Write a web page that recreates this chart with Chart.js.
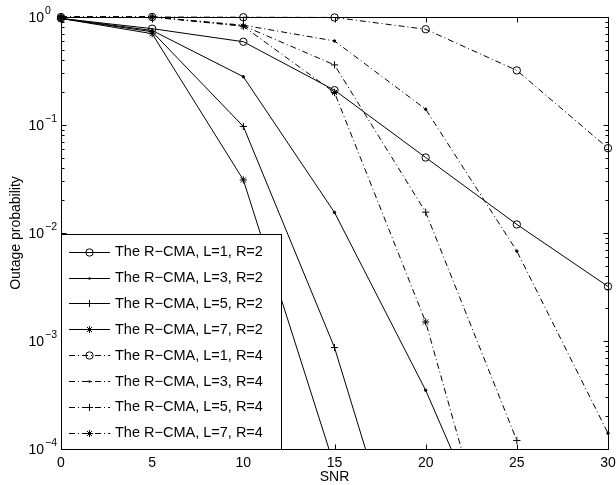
<!DOCTYPE html>
<html>
<head>
<meta charset="utf-8">
<script src="https://cdn.jsdelivr.net/npm/chart.js@4"></script>
<style>
  body { margin: 0; background: #fff; }
  #wrap { width: 616px; height: 485px; }
</style>
</head>
<body>
<div id="wrap"><canvas id="outage-chart"></canvas></div>
<script>
// SNR values on the x axis
var snr = [0, 5, 10, 15, 20, 25, 30];

// Outage probability, R = 2 (solid lines)
var l1r2 = [0.97, 0.78, 0.59, 0.21, 0.05, 0.012, 0.0032];
var l3r2 = [0.97, 0.75, 0.28, 0.0155, 0.00035, 0.000004];
var l5r2 = [0.97, 0.73, 0.097, 0.00087, 0.0000015];
var l7r2 = [0.97, 0.70, 0.031, 0.000069];

// Outage probability, R = 4 (dash-dot lines)
var l1r4 = [1, 1, 0.995, 0.99, 0.77, 0.32, 0.061];
var l3r4 = [1, 1, 0.84, 0.6, 0.14, 0.0068, 0.00014];
var l5r4 = [1, 1, 0.83, 0.36, 0.0156, 0.00012];
var l7r4 = [1, 1, 0.82, 0.2, 0.0015, 0.0000015];

var seriesLabels = [
  'The R\u2212CMA, L=1, R=2',
  'The R\u2212CMA, L=3, R=2',
  'The R\u2212CMA, L=5, R=2',
  'The R\u2212CMA, L=7, R=2',
  'The R\u2212CMA, L=1, R=4',
  'The R\u2212CMA, L=3, R=4',
  'The R\u2212CMA, L=5, R=4',
  'The R\u2212CMA, L=7, R=4'
];

// Tick labels
var xTicks = [0, 5, 10, 15, 20, 25, 30];
var yTickExponents = [0, -1, -2, -3, -4];
var xTitle = 'SNR';
var yTitle = 'Outage probability';

var FONT = '"Liberation Sans", Arial, Helvetica, sans-serif';
var DASH_DOT = [6, 3, 1, 3];

// Marker looks (MATLAB style)
var markers = {
  circle: { pointStyle: 'circle', radius: 3.7, fill: 'rgba(0,0,0,0)' },
  dot:    { pointStyle: 'circle', radius: 1.2, fill: '#000' },
  plus:   { pointStyle: 'cross',  radius: 3.6, fill: 'rgba(0,0,0,0)' },
  star:   { pointStyle: 'star',   radius: 3.6, fill: 'rgba(0,0,0,0)' }
};

function makeSet(label, values, markerName, dashed) {
  var m = markers[markerName];
  return {
    label: label,
    data: values.map(function (v, i) { return { x: snr[i], y: v }; }),
    borderColor: '#000',
    borderWidth: 1,
    borderDash: dashed ? DASH_DOT : [],
    tension: 0,
    fill: false,
    pointStyle: m.pointStyle,
    pointRadius: m.radius,
    pointBorderColor: '#000',
    pointBackgroundColor: m.fill,
    pointBorderWidth: 1,
    markerName: markerName,
    dashed: dashed,
    clip: { left: 8, top: 8, right: 8, bottom: 0 }
  };
}

var datasets = [
  makeSet(seriesLabels[0], l1r2, 'circle', false),
  makeSet(seriesLabels[1], l3r2, 'dot', false),
  makeSet(seriesLabels[2], l5r2, 'plus', false),
  makeSet(seriesLabels[3], l7r2, 'star', false),
  makeSet(seriesLabels[4], l1r4, 'circle', true),
  makeSet(seriesLabels[5], l3r4, 'dot', true),
  makeSet(seriesLabels[6], l5r4, 'plus', true),
  makeSet(seriesLabels[7], l7r4, 'star', true)
];

// Draw a legend marker by hand
function drawMarker(ctx, name, x, y) {
  var r = markers[name].radius;
  ctx.save();
  ctx.setLineDash([]);
  ctx.strokeStyle = '#000';
  ctx.fillStyle = '#000';
  ctx.lineWidth = 1;
  ctx.beginPath();
  if (name === 'circle') {
    ctx.arc(x, y, r, 0, Math.PI * 2);
    ctx.stroke();
  } else if (name === 'dot') {
    ctx.arc(x, y, r, 0, Math.PI * 2);
    ctx.fill();
  } else {
    ctx.moveTo(x - r, y); ctx.lineTo(x + r, y);
    ctx.moveTo(x, y - r); ctx.lineTo(x, y + r);
    if (name === 'star') {
      var d = r * 0.707;
      ctx.moveTo(x - d, y - d); ctx.lineTo(x + d, y + d);
      ctx.moveTo(x - d, y + d); ctx.lineTo(x + d, y - d);
    }
    ctx.stroke();
  }
  ctx.restore();
}

// Box, inward ticks, labels and legend like a MATLAB figure
var matlabAxes = {
  id: 'matlabAxes',
  afterDatasetsDraw: function (chart) {
    var ctx = chart.ctx;
    var a = chart.chartArea;
    var xs = chart.scales.x;
    var ys = chart.scales.y;
    var L = Math.round(a.left) + 0.5, R = Math.round(a.right) + 0.5;
    var T = Math.round(a.top) + 0.5, B = Math.round(a.bottom) + 0.5;

    ctx.save();
    ctx.strokeStyle = '#000';
    ctx.lineWidth = 1;
    ctx.setLineDash([]);

    // x ticks (bottom and top)
    ctx.beginPath();
    xTicks.forEach(function (t) {
      var px = Math.round(xs.getPixelForValue(t)) + 0.5;
      ctx.moveTo(px, B); ctx.lineTo(px, B - 5);
      ctx.moveTo(px, T); ctx.lineTo(px, T + 5);
    });
    // y major + minor ticks (left and right)
    yTickExponents.forEach(function (e) {
      var py = Math.round(ys.getPixelForValue(Math.pow(10, e))) + 0.5;
      ctx.moveTo(L, py); ctx.lineTo(L + 5, py);
      ctx.moveTo(R, py); ctx.lineTo(R - 5, py);
      if (e > -4) {
        for (var m = 2; m <= 9; m++) {
          var my = Math.round(ys.getPixelForValue(m * Math.pow(10, e - 1))) + 0.5;
          ctx.moveTo(L, my); ctx.lineTo(L + 3, my);
          ctx.moveTo(R, my); ctx.lineTo(R - 3, my);
        }
      }
    });
    ctx.stroke();

    // Legend box
    var lx0 = L, lx1 = 281.5, ly0 = 234.5, ly1 = B;
    ctx.fillStyle = '#fff';
    ctx.fillRect(lx0, ly0, lx1 - lx0, ly1 - ly0);
    ctx.strokeRect(lx0, ly0, lx1 - lx0, ly1 - ly0);

    ctx.font = '14.5px ' + FONT;
    ctx.textBaseline = 'middle';
    ctx.textAlign = 'left';
    chart.data.datasets.forEach(function (ds, i) {
      var ry = 251.7 + i * 25.86;
      ctx.save();
      ctx.setLineDash(ds.dashed ? DASH_DOT : []);
      ctx.beginPath();
      ctx.moveTo(69, Math.round(ry) + 0.5);
      ctx.lineTo(110, Math.round(ry) + 0.5);
      ctx.stroke();
      ctx.restore();
      drawMarker(ctx, ds.markerName, 89.5, Math.round(ry) + 0.5);
      ctx.fillStyle = '#000';
      ctx.fillText(ds.label, 115, ry + 0.5);
    });

    // Axis box
    ctx.strokeRect(L, T, R - L, B - T);

    // x tick labels and title
    ctx.fillStyle = '#000';
    ctx.font = '14px ' + FONT;
    ctx.textAlign = 'center';
    xTicks.forEach(function (t) {
      ctx.fillText(String(t), xs.getPixelForValue(t), 463.5);
    });
    ctx.fillText(xTitle, (a.left + a.right) / 2, 477.5);

    // y tick labels as 10^e
    yTickExponents.forEach(function (e) {
      var py = ys.getPixelForValue(Math.pow(10, e));
      ctx.font = '14px ' + FONT;
      ctx.textAlign = 'right';
      ctx.fillText('10', 44, py + 1);
      ctx.font = '10.5px ' + FONT;
      ctx.textAlign = 'left';
      ctx.fillText(e === 0 ? '0' : '\u2212' + Math.abs(e), 45, py - 6);
    });

    // y title
    ctx.save();
    ctx.translate(16, (a.top + a.bottom) / 2);
    ctx.rotate(-Math.PI / 2);
    ctx.font = '14px ' + FONT;
    ctx.textAlign = 'center';
    ctx.fillText(yTitle, 0, 0);
    ctx.restore();

    ctx.restore();
  }
};

var ctx = document.getElementById('outage-chart').getContext('2d');
var outageChart = new Chart(ctx, {
  type: 'line',
  data: { datasets: datasets },
  options: {
    responsive: true,
    maintainAspectRatio: false,
    animation: false,
    layout: { padding: { left: 61, right: 8, top: 17, bottom: 36 } },
    plugins: {
      legend: { display: false },
      tooltip: { enabled: false }
    },
    scales: {
      x: { type: 'linear', min: 0, max: 30, display: false },
      y: { type: 'logarithmic', min: 0.0001, max: 1, display: false }
    }
  },
  plugins: [matlabAxes]
});
</script>
</body>
</html>
